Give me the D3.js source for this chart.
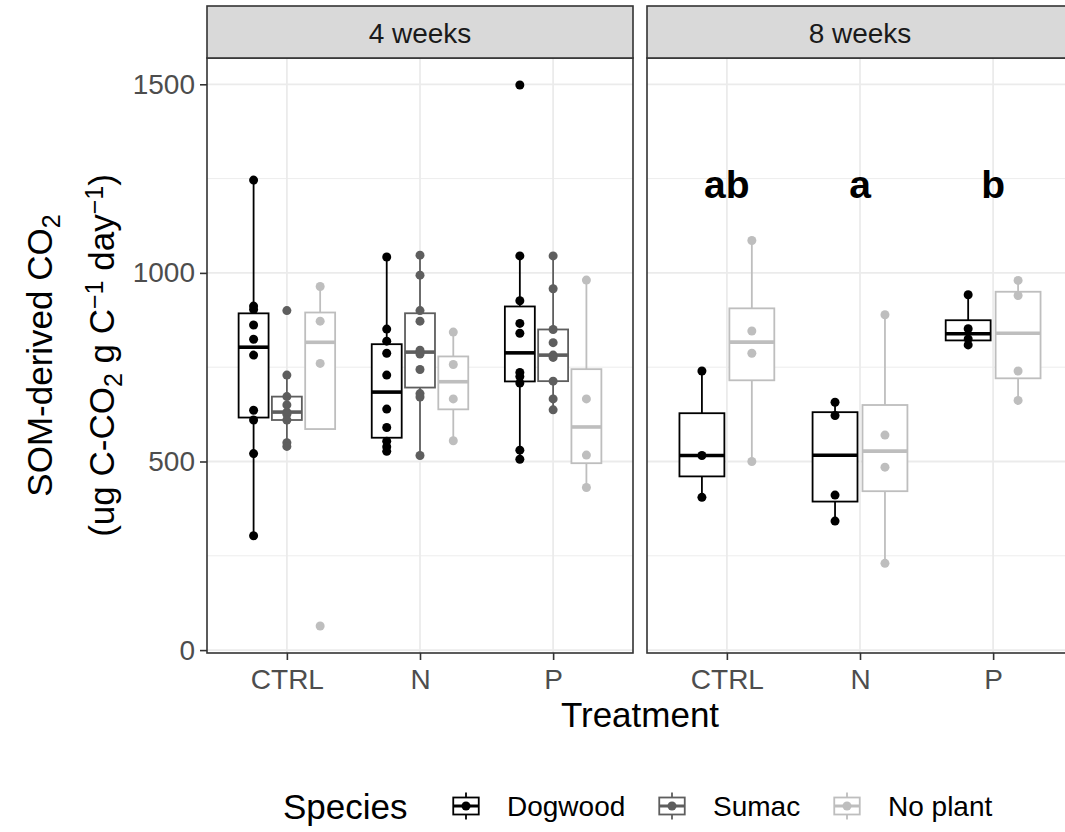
<!DOCTYPE html>
<html><head><meta charset="utf-8">
<script src="https://cdn.jsdelivr.net/npm/d3@7"></script>
<style>body{margin:0;background:#fff}svg{display:block}text{font-family:"Liberation Sans",Arial,sans-serif}</style>
</head><body><svg id="c" width="1065" height="832"></svg>
<script>
// ---- data ----
const treatments = ["CTRL", "N", "P"];
const weeks = ["4 weeks", "8 weeks"];
const speciesNames = ["Dogwood", "Sumac", "No plant"];
const speciesColors = ["#000000", "#5E5E5E", "#BEBEBE"];
// values per treatment (CTRL, N, P)
const w4Dogwood = [[1246, 912, 903, 862, 824, 782, 636, 610, 521, 303],
                   [1042, 851, 819, 787, 729, 639, 590, 554, 539, 527],
                   [1498, 1045, 926, 866, 840, 736, 725, 708, 530, 506]];
const w4Sumac   = [[900, 729, 672, 650, 631, 625, 610, 550, 540],
                   [1047, 994, 900, 872, 795, 785, 744, 680, 671, 516],
                   [1045, 958, 850, 815, 782, 776, 713, 666, 637]];
const w4NoPlant = [[964, 872, 760, 64],
                   [843, 757, 666, 555],
                   [981, 666, 517, 431]];
const w8Dogwood = [[740, 516, 405],
                   [657, 622, 411, 342],
                   [942, 852, 825, 809]];
const w8NoPlant = [[1086, 846, 787, 500],
                   [889, 570, 485, 230],
                   [980, 940, 740, 662]];
const w8Letters = ["ab", "a", "b"];
const letterY = 1235;
const yTicks = [0, 500, 1000, 1500];
const yMinor = [250, 750, 1250];

// ---- build rows ----
const panelSeries = [
  [{sp: 0, vals: w4Dogwood}, {sp: 1, vals: w4Sumac}, {sp: 2, vals: w4NoPlant}],
  [{sp: 0, vals: w8Dogwood}, {sp: 2, vals: w8NoPlant}]
];

const svg = d3.select("#c");
const panelW = 426, panelGap = 14, left0 = 207, pTop = 58, pBottom = 653, stripTop = 6;
const allVals = panelSeries.flat().flatMap(s => s.vals.flat());
const ext = d3.extent(allVals);
const pad = (ext[1] - ext[0]) * 0.05;
const y = d3.scaleLinear().domain([ext[0] - pad, ext[1] + pad]).range([pBottom, pTop]);
const x = d3.scalePoint().domain(treatments).range([0, panelW]).padding(0.6);
const step = x.step();

function boxStats(v) {
  const s = v.slice().sort(d3.ascending);
  const q1 = d3.quantile(s, 0.25), med = d3.quantile(s, 0.5), q3 = d3.quantile(s, 0.75);
  const iqr = q3 - q1, lo = q1 - 1.5 * iqr, hi = q3 + 1.5 * iqr;
  const inside = s.filter(d => d >= lo && d <= hi);
  return {q1, med, q3, wlo: d3.min(inside), whi: d3.max(inside)};
}

weeks.forEach((wk, p) => {
  const x0 = left0 + p * (panelW + panelGap);
  const g = svg.append("g").attr("transform", `translate(${x0},0)`);
  g.append("rect").attr("x", 0).attr("y", pTop).attr("width", panelW).attr("height", pBottom - pTop).attr("fill", "#fff");
  g.selectAll(".gm").data(yMinor).join("line")
    .attr("x1", 0).attr("x2", panelW).attr("y1", d => y(d)).attr("y2", d => y(d))
    .attr("stroke", "#EBEBEB").attr("stroke-width", 0.9);
  g.selectAll(".gy").data(yTicks).join("line")
    .attr("x1", 0).attr("x2", panelW).attr("y1", d => y(d)).attr("y2", d => y(d))
    .attr("stroke", "#EBEBEB").attr("stroke-width", 1.8);
  g.selectAll(".gx").data(treatments).join("line")
    .attr("x1", d => x(d)).attr("x2", d => x(d)).attr("y1", pTop).attr("y2", pBottom)
    .attr("stroke", "#EBEBEB").attr("stroke-width", 1.8);

  const series = panelSeries[p];
  const n = series.length;
  const dodge = 0.75 * step, slot = dodge / n, bw = slot * 0.9;
  series.forEach((s, i) => {
    const col = speciesColors[s.sp];
    s.vals.forEach((vals, t) => {
      const cx = x(treatments[t]) - dodge / 2 + slot * (i + 0.5);
      const st = boxStats(vals);
      const bg = g.append("g");
      bg.append("line").attr("x1", cx).attr("x2", cx).attr("y1", y(st.q3)).attr("y2", y(Math.max(st.whi, st.q3)))
        .attr("stroke", col).attr("stroke-width", 1.8);
      bg.append("line").attr("x1", cx).attr("x2", cx).attr("y1", y(st.q1)).attr("y2", y(Math.min(st.wlo, st.q1)))
        .attr("stroke", col).attr("stroke-width", 1.8);
      bg.append("rect").attr("x", cx - bw / 2).attr("width", bw).attr("y", y(st.q3)).attr("height", y(st.q1) - y(st.q3))
        .attr("fill", "#fff").attr("stroke", col).attr("stroke-width", 1.8);
      bg.append("line").attr("x1", cx - bw / 2).attr("x2", cx + bw / 2).attr("y1", y(st.med)).attr("y2", y(st.med))
        .attr("stroke", col).attr("stroke-width", 3.6);
      bg.selectAll("circle").data(vals).join("circle")
        .attr("cx", cx).attr("cy", d => y(d)).attr("r", 4.5).attr("fill", col);
    });
  });
  if (p === 1) {
    g.selectAll(".let").data(w8Letters).join("text")
      .attr("x", (d, i) => x(treatments[i])).attr("y", y(letterY))
      .attr("text-anchor", "middle").attr("dominant-baseline", "central")
      .attr("font-size", 39).attr("font-weight", "bold").attr("fill", "#000").text(d => d);
  }
  g.append("rect").attr("x", 0).attr("y", pTop).attr("width", panelW).attr("height", pBottom - pTop)
    .attr("fill", "none").attr("stroke", "#333333").attr("stroke-width", 1.6);
  g.append("rect").attr("x", 0).attr("y", stripTop).attr("width", panelW).attr("height", pTop - stripTop)
    .attr("fill", "#D9D9D9").attr("stroke", "#333333").attr("stroke-width", 1.6);
  g.append("text").attr("x", panelW / 2).attr("y", (pTop + stripTop) / 2 + 1).attr("text-anchor", "middle")
    .attr("dominant-baseline", "central").attr("font-size", 28).attr("fill", "#1A1A1A").text(wk);
  const ax = g.append("g").attr("transform", `translate(0,${pBottom})`)
    .call(d3.axisBottom(x).tickSize(7).tickPadding(9));
  ax.select(".domain").remove();
  ax.selectAll("line").attr("stroke", "#333333").attr("stroke-width", 1.6);
  ax.selectAll("text").attr("font-size", 28).attr("fill", "#4D4D4D").attr("font-family", "Liberation Sans, Arial, sans-serif");
});

const ay = svg.append("g").attr("transform", `translate(${left0},0)`)
  .call(d3.axisLeft(y).tickValues(yTicks).tickFormat(d3.format("d")).tickSize(7).tickPadding(5));
ay.select(".domain").remove();
ay.selectAll("line").attr("stroke", "#333333").attr("stroke-width", 1.6);
ay.selectAll("text").attr("font-size", 28).attr("fill", "#4D4D4D").attr("font-family", "Liberation Sans, Arial, sans-serif");

svg.append("text").attr("x", (left0 + left0 + 2 * panelW + panelGap) / 2).attr("y", 727).attr("text-anchor", "middle")
  .attr("font-size", 35).attr("fill", "#000").text("Treatment");

const yc = (pTop + pBottom) / 2;
const t1 = svg.append("text").attr("transform", `translate(52,${yc}) rotate(-90)`).attr("text-anchor", "middle")
  .attr("font-size", 35).attr("fill", "#000");
t1.append("tspan").text("SOM-derived CO");
t1.append("tspan").attr("font-size", 25).attr("baseline-shift", "-30%").text("2");
const t2 = svg.append("text").attr("transform", `translate(114,${yc}) rotate(-90)`).attr("text-anchor", "middle")
  .attr("font-size", 35).attr("fill", "#000");
t2.append("tspan").text("(ug C-CO");
t2.append("tspan").attr("font-size", 25).attr("baseline-shift", "-30%").text("2");
t2.append("tspan").text(" g C");
t2.append("tspan").attr("font-size", 25).attr("baseline-shift", "45%").text("\u22121");
t2.append("tspan").text(" day");
t2.append("tspan").attr("font-size", 25).attr("baseline-shift", "45%").text("\u22121");
t2.append("tspan").text(")");

const ly = 806;
const lg = svg.append("g");
lg.append("text").attr("x", 283).attr("y", ly).attr("dominant-baseline", "central").attr("font-size", 35).attr("fill", "#000").text("Species");
const keyX = [449, 655, 830];
const labX = [507, 713, 888];
speciesNames.forEach((nm, i) => {
  const col = speciesColors[i], k = 34, kx = keyX[i], ky = ly - k / 2;
  const kg = lg.append("g");
  kg.append("line").attr("x1", kx + k / 2).attr("x2", kx + k / 2).attr("y1", ky + k * 0.1).attr("y2", ky + k * 0.9).attr("stroke", col).attr("stroke-width", 1.8);
  kg.append("rect").attr("x", kx + k * 0.125).attr("y", ky + k * 0.25).attr("width", k * 0.75).attr("height", k * 0.5)
    .attr("fill", "#fff").attr("stroke", col).attr("stroke-width", 1.8);
  kg.append("line").attr("x1", kx + k * 0.125).attr("x2", kx + k * 0.875).attr("y1", ly).attr("y2", ly).attr("stroke", col).attr("stroke-width", 3);
  kg.append("circle").attr("cx", kx + k / 2).attr("cy", ly).attr("r", 4.5).attr("fill", col);
  lg.append("text").attr("x", labX[i]).attr("y", ly).attr("dominant-baseline", "central").attr("font-size", 28).attr("fill", "#000").text(nm);
});
</script></body></html>
